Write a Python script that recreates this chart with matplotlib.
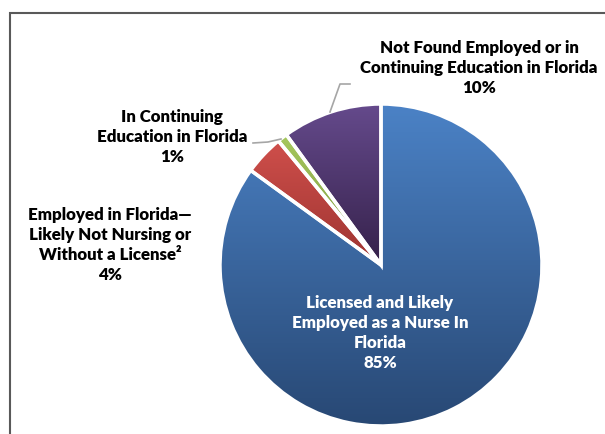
import matplotlib.pyplot as plt
import matplotlib.patches as mpatches
import numpy as np
from matplotlib.colors import LinearSegmentedColormap

# slice data (clockwise from top)
labels = ["Licensed and Likely\nEmployed as a Nurse In\nFlorida",
          "Employed in Florida\u2014\nLikely Not Nursing or\nWithout a License\u00b2",
          "In Continuing\nEducation in Florida",
          "Not Found Employed or in\nContinuing Education in Florida"]
values = [85, 4, 1, 10]
top_colors = ["#4b82c6", "#cf4f4b", "#a6c85e", "#654a8c"]
bottom_colors = ["#284874", "#9e3431", "#7c963f", "#35214a"]

W, H = 605, 434
fig = plt.figure(figsize=(W / 100, H / 100), dpi=100)

# pie centre / radius in pixels
cx, cy, R = 381, 265, 161


def px(x, y):
    return ((x - cx) / R, (cy - y) / R)


ax = fig.add_axes([(cx - R) / W, (H - cy - R) / H, 2 * R / W, 2 * R / H])
wedges, _ = ax.pie(values, startangle=90, counterclock=False,
                   wedgeprops=dict(edgecolor="white", linewidth=2.5))
ax.set_aspect("equal")
ax.axis("off")

# vertical gradient fill per wedge
for w, c1, c2 in zip(wedges, top_colors, bottom_colors):
    ext = w.get_path().get_extents()
    cmap = LinearSegmentedColormap.from_list("g", [c2, c1])
    grad = np.linspace(0, 1, 256).reshape(-1, 1)
    im = ax.imshow(grad, cmap=cmap, origin="lower", aspect="auto",
                   extent=[ext.x0, ext.x1, ext.y0, ext.y1], zorder=1)
    im.set_clip_path(w)
    w.set_facecolor("none")
    w.set_zorder(2)
ax.set_xlim(-1, 1)
ax.set_ylim(-1, 1)

font = dict(family=["Lato", "DejaVu Sans"], fontweight="heavy", fontsize=12.2,
            ha="center", va="center", linespacing=1.32)

ax.text(*px(380, 333), labels[0] + "\n%d%%" % values[0], color="white",
        clip_on=False, zorder=5, **font)
ax.text(*px(110, 245), labels[1] + "\n%d%%" % values[1], color="black",
        clip_on=False, **font)
ax.text(*px(172, 137), labels[2] + "\n%d%%" % values[2], color="black",
        clip_on=False, **font)
ax.text(*px(479, 68), labels[3] + "\n%d%%" % values[3], color="black",
        clip_on=False, **font)

# leader lines
lx, ly = zip(px(330, 112), px(340, 84), px(350, 84))
ax.plot(lx, ly, color="#a6a6a6", lw=1.2, clip_on=False, zorder=3)
lx, ly = zip(px(253, 143), px(268, 142), px(281, 139))
ax.plot(lx, ly, color="#a6a6a6", lw=1.2, clip_on=False, zorder=3)

# chart area border (cropped at right and bottom)
fig.add_artist(mpatches.Rectangle((10 / W, -0.1), 1.2, (H - 13) / H + 0.1,
                                  transform=fig.transFigure, fill=False,
                                  edgecolor="#595959", lw=1.5))

fig.savefig("out.png", dpi=100)
